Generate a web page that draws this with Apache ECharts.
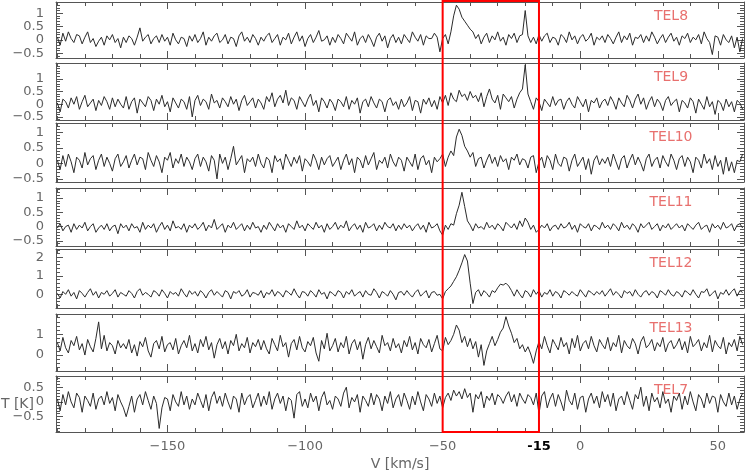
<!DOCTYPE html>
<html>
<head>
<meta charset="utf-8">
<script src="https://cdn.jsdelivr.net/npm/echarts@6/dist/echarts.min.js"></script>
<style>html,body{margin:0;background:#fff}#main{width:748px;height:475px}</style>
</head>
<body>
<div id="main"></div>
<script>
// spectra, one value per 1 km/s channel, from -190 to 59 km/s
const v0 = -190, dv = 1;
const names = ['TEL8', 'TEL9', 'TEL10', 'TEL11', 'TEL12', 'TEL13', 'TEL7'];

const tel8 = [
  0.1,-0.2,0.25,-0.05,0.3, 0.05,-0.1,0.2,0.15,-0.15, 0.1,0.3,-0.1,0.05,-0.25, -0.05,0.1,-0.2,0.15,0.0, 0.2,-0.1,0.05,-0.3,0.1,
  -0.1,0.15,0.05,-0.2,0.1, 0.45,-0.05,0.1,0.2,-0.15, 0.05,0.15,-0.1,0.2,-0.05, 0.1,-0.2,0.25,0.0,-0.15, 0.1,0.05,-0.25,0.15,-0.05,
  0.2,-0.1,0.05,0.3,-0.2, 0.1,-0.05,0.15,0.25,-0.1, 0.0,0.2,-0.15,0.1,0.05, -0.25,0.15,0.3,-0.05,0.1, -0.1,0.2,0.05,-0.2,0.1,
  -0.05,0.15,0.25,-0.1,0.05, 0.2,-0.2,0.1,0.0,0.25, -0.15,0.1,0.3,-0.05,0.15, -0.25,0.05,0.2,-0.1,0.1, 0.35,-0.05,0.0,0.15,-0.2,
  0.1,-0.1,0.2,0.05,-0.15, 0.25,0.1,-0.05,0.3,-0.2, 0.05,0.15,-0.1,0.2,0.0, -0.25,0.1,0.25,-0.05,0.15, -0.3,0.05,0.2,-0.1,0.1,
  -0.15,0.2,0.05,-0.1,0.3, 0.1,-0.05,0.2,-0.2,0.15, 0.05,0.05,0.25,0.1,-0.45, 0.05,0.2,-0.15,0.3,0.9, 1.3,1.15,0.85,0.7,0.55,
  0.4,0.3,0.05,0.2,-0.15, 0.1,0.25,-0.1,0.15,0.0, 0.3,-0.05,0.1,-0.2,0.2, 0.05,0.25,-0.1,0.15,0.2, 1.1,0.15,-0.1,0.1,-0.15,
  0.2,-0.05,0.15,0.25,-0.1, 0.1,0.05,-0.2,0.2,0.1, -0.1,0.3,0.0,0.15,-0.15, 0.1,0.2,-0.05,0.05,0.25, -0.2,0.1,0.0,0.15,-0.1,
  0.2,0.05,-0.15,0.1,0.3, -0.1,0.15,0.0,0.25,-0.2, 0.1,0.05,0.2,-0.1,0.15, -0.05,0.3,0.1,-0.15,0.05, 0.2,-0.1,0.1,0.25,-0.05,
  0.1,-0.2,0.15,0.05,0.25, -0.1,0.1,0.0,0.2,-0.15, 0.3,0.05,-0.1,-0.55,0.15, 0.1,-0.2,0.2,0.0,-0.1, 0.15,-0.3,0.1,-0.45,0.05
];
const tel9 = [
  0.05,-0.3,0.2,0.1,-0.15, 0.25,0.0,0.3,-0.2,0.1, 0.35,-0.1,0.05,0.2,-0.25, 0.15,-0.05,0.3,0.1,-0.2, 0.25,-0.1,0.2,0.0,-0.15,
  0.3,-0.2,0.1,0.25,-0.35, 0.2,0.05,-0.1,0.3,0.15, -0.25,0.2,0.0,0.35,-0.1, 0.1,-0.3,0.25,0.05,-0.15, 0.2,0.1,-0.2,0.3,-0.5,
  0.15,0.35,-0.05,0.2,0.1, -0.2,0.4,0.05,0.15,-0.15, 0.25,0.1,-0.1,0.3,0.0, 0.2,-0.25,0.15,0.35,-0.05, 0.1,0.25,-0.15,0.2,0.05,
  -0.2,0.3,0.1,0.45,-0.1, 0.2,0.35,0.05,0.55,-0.05, 0.25,0.15,-0.2,0.3,0.1, -0.1,0.2,0.4,-0.05,0.15, -0.3,0.25,0.1,-0.15,0.2,
  0.05,-0.25,0.2,0.1,-0.1, 0.3,-0.2,0.15,0.0,0.25, -0.35,0.1,0.2,-0.1,0.3, 0.05,-0.15,0.2,0.1,-0.3, 0.15,0.25,-0.05,0.1,-0.2,
  0.2,-0.1,0.05,0.3,-0.25, 0.15,0.1,-0.35,0.2,0.0, 0.25,-0.1,0.15,-0.2,0.3, 0.05,0.35,-0.05,0.45,0.2, 0.1,0.55,0.3,0.4,0.15,
  0.5,0.25,0.35,0.1,0.45, -0.1,0.3,0.6,0.2,0.05, 0.35,-0.2,0.4,0.25,0.1, 0.3,-0.15,0.2,0.45,0.6, 1.55,0.4,0.1,-0.2,0.25,
  0.1,-0.25,0.2,0.05,-0.1, 0.3,-0.05,0.15,0.2,-0.2, 0.1,0.25,0.0,-0.15,0.3, 0.1,-0.1,0.2,-0.3,0.15, 0.05,0.25,-0.15,0.1,0.2,
  -0.05,0.3,0.1,-0.2,0.25, 0.05,-0.1,0.35,0.15,-0.15, 0.2,0.4,0.0,0.25,-0.2, 0.1,0.3,-0.1,0.2,0.05, -0.25,0.15,0.3,-0.05,0.1,
  0.2,-0.3,0.15,0.05,-0.15, 0.25,0.1,-0.35,0.2,0.0, -0.2,0.3,-0.1,0.1,-0.4, 0.15,0.05,-0.25,0.2,-0.1, 0.1,-0.3,0.15,0.05,-0.2
];
const tel10 = [
  0.1,-0.2,0.25,-0.1,0.3, 0.05,-0.3,0.2,0.1,-0.15, 0.35,-0.05,0.15,0.25,-0.2, 0.1,0.3,-0.1,0.2,0.0, -0.25,0.15,0.3,-0.1,0.05,
  0.25,-0.15,0.1,0.3,-0.05, 0.2,0.15,-0.2,0.35,0.1, -0.1,0.25,0.05,-0.3,0.2, 0.1,0.35,-0.15,0.15,0.0, 0.3,-0.1,0.2,0.05,-0.2,
  0.15,0.3,-0.1,0.2,0.05, -0.25,0.25,0.1,-0.5,0.3, 0.0,0.2,-0.2,0.15,0.55, -0.05,0.1,0.25,-0.3,0.15, 0.05,0.2,-0.1,0.3,0.0,
  -0.15,0.2,0.1,-0.3,0.25, 0.05,0.15,-0.2,0.3,0.1, -0.1,0.2,0.0,0.25,-0.25, 0.15,0.05,-0.1,0.3,0.1, -0.2,0.2,-0.05,0.15,0.25,
  -0.1,0.05,0.2,-0.2,0.1, 0.3,-0.05,0.15,-0.3,0.2, 0.1,-0.15,0.25,-0.05,0.15, 0.35,-0.2,0.1,0.0,0.2, -0.15,0.3,0.05,-0.1,0.2,
  0.1,-0.25,0.2,0.05,-0.1, 0.3,-0.2,0.15,0.25,-0.05, 0.1,-0.3,0.2,0.05,0.15, 0.3,-0.1,0.2,0.4,0.25, 0.85,1.1,0.9,0.55,0.4,
  0.2,0.35,-0.1,0.15,0.2, -0.15,0.1,0.3,0.0,0.2, -0.1,0.25,0.05,0.15,-0.2, 0.2,0.1,0.3,-0.05,0.15, 0.1,-0.15,0.2,0.25,-0.3,
  0.05,0.2,-0.15,0.25,0.1, -0.2,0.3,0.0,-0.1,0.2, 0.15,-0.25,0.1,0.3,-0.1, 0.05,0.2,-0.2,0.15,-0.35, 0.1,0.25,-0.05,0.15,0.0,
  0.2,-0.1,0.3,0.05,-0.2, 0.15,0.25,-0.15,0.1,0.3, -0.05,0.2,0.0,-0.25,0.15, 0.3,-0.1,0.1,0.2,-0.15, 0.25,0.05,-0.1,0.3,0.1,
  -0.2,0.15,0.25,-0.1,0.2, 0.05,-0.3,0.2,0.1,-0.15, 0.3,0.0,0.15,-0.2,0.25, -0.1,0.1,-0.35,0.2,-0.25, 0.05,-0.3,0.1,0.05,0.3
];
const tel11 = [
  -0.05,0.1,-0.15,0.0,0.05, -0.2,0.1,-0.1,0.05,-0.05, 0.15,-0.15,0.0,0.1,-0.2, -0.05,0.05,-0.1,0.1,-0.15, 0.0,0.05,-0.25,0.1,-0.05,
  0.05,-0.15,0.1,-0.05,0.0, -0.2,0.15,-0.1,0.05,-0.05, 0.1,-0.2,0.0,0.15,-0.1, 0.05,-0.15,0.2,-0.05,0.0, -0.1,0.1,-0.2,0.05,-0.05,
  0.1,-0.1,0.0,0.15,-0.15, 0.05,-0.05,0.25,-0.1,0.0, 0.1,-0.2,0.05,-0.05,0.15, -0.1,0.0,0.1,-0.15,0.05, -0.1,0.15,-0.05,0.0,-0.2,
  0.05,-0.1,0.15,0.0,-0.15, 0.1,-0.05,0.05,-0.2,0.1, 0.0,-0.1,0.2,-0.05,0.05, -0.15,0.1,0.0,-0.1,0.15, -0.05,0.05,-0.2,0.1,-0.1,
  0.0,0.15,-0.1,0.05,-0.05, 0.2,-0.15,0.0,0.1,-0.1, 0.05,-0.2,0.15,-0.05,0.0, 0.1,-0.15,0.05,-0.1,0.15, 0.0,-0.05,0.1,-0.15,0.05,
  -0.1,0.1,-0.05,0.05,-0.15, 0.0,0.1,-0.1,0.05,-0.2, 0.15,-0.05,0.0,0.1,-0.15, -0.3,0.05,-0.1,0.1,0.05, 0.45,0.75,1.2,0.7,0.2,
  0.05,-0.15,0.1,-0.05,0.0, -0.1,0.15,-0.05,0.05,-0.1, 0.1,0.0,-0.15,0.15,0.05, -0.05,0.1,-0.1,0.2,0.0, 0.3,0.15,-0.1,0.05,-0.2,
  -0.1,0.05,-0.05,0.1,-0.15, 0.0,0.05,-0.1,0.1,-0.05, 0.0,0.15,-0.1,0.05,-0.2, 0.1,0.0,-0.05,0.1,-0.15, 0.05,0.0,-0.1,0.15,-0.05,
  0.05,-0.1,0.1,0.0,-0.15, 0.15,-0.05,0.05,-0.1,0.1, 0.0,-0.2,0.1,-0.05,0.05, 0.15,-0.1,0.0,0.1,-0.15, 0.05,-0.05,0.1,-0.1,0.0,
  0.1,-0.05,0.05,-0.15,0.1, 0.0,-0.1,0.05,0.15,-0.1, 0.0,0.05,-0.2,0.1,-0.05, 0.05,-0.1,0.15,-0.05,0.0, 0.1,-0.15,0.05,0.1,-0.05
];
const tel12 = [
  0.05,-0.2,0.15,0.0,0.25, -0.1,0.1,-0.25,0.2,0.05, -0.15,0.1,0.3,-0.05,0.15, -0.2,0.1,0.0,0.2,-0.1, 0.05,0.25,-0.15,0.1,0.0,
  -0.1,0.2,0.05,-0.2,0.15, 0.3,-0.05,0.1,0.0,-0.15, 0.2,0.1,-0.1,0.25,0.05, -0.2,0.15,0.0,0.1,-0.1, 0.3,0.05,-0.15,0.2,0.0,
  0.15,-0.1,0.2,0.05,-0.2, 0.1,0.25,-0.05,0.15,0.0, -0.15,0.2,0.1,-0.25,0.15, 0.05,0.2,-0.1,0.0,0.25, -0.15,0.1,0.05,-0.05,0.2,
  -0.2,0.1,0.0,0.25,-0.1, 0.15,0.05,-0.15,0.2,0.1, -0.05,0.3,0.0,-0.2,0.15, 0.1,-0.1,0.2,0.05,-0.15, 0.25,0.0,0.1,-0.25,0.15,
  0.05,-0.1,0.2,0.1,-0.2, 0.15,0.0,0.25,-0.1,0.05, 0.15,-0.15,0.2,0.0,-0.05, 0.3,0.1,-0.2,0.15,0.05, -0.1,0.2,0.0,-0.3,0.1,
  0.15,-0.05,0.2,0.0,-0.15, 0.1,0.25,-0.1,0.05,0.2, -0.2,0.1,0.15,-0.05,0.0, -0.25,0.15,0.3,0.45,0.7, 0.95,1.3,1.7,2.15,1.8,
  0.6,-0.5,0.1,0.25,-0.1, 0.2,0.05,-0.15,0.2,0.1, 0.35,0.55,0.5,0.6,0.45, 0.2,-0.1,0.25,0.0,-0.2, 0.2,0.1,-0.15,0.25,0.0,
  0.2,-0.15,0.1,0.0,0.25, -0.1,0.15,0.05,-0.2,0.2, 0.1,-0.05,0.15,0.0,-0.1, 0.25,0.05,-0.15,0.2,0.1, -0.05,0.15,0.0,0.2,-0.1,
  0.1,0.3,-0.05,0.15,0.0, -0.2,0.2,0.05,0.15,-0.1, 0.25,0.0,-0.15,0.1,0.2, -0.05,0.15,0.05,-0.2,0.2, 0.1,-0.05,0.25,0.0,-0.1,
  0.15,0.05,-0.15,0.2,0.1, -0.05,0.25,0.0,-0.2,0.15, 0.1,0.3,-0.1,0.05,0.2, -0.25,0.1,0.0,0.25,-0.05, 0.15,0.3,-0.1,0.2,0.1
];
const tel13 = [
  0.6,0.2,0.85,0.35,0.1, 0.7,0.45,0.9,0.25,0.55, 0.0,0.75,0.4,0.15,0.8, 1.6,0.3,0.95,0.2,0.6, 0.45,0.05,0.7,0.35,0.55,
  0.3,0.75,0.1,0.5,-0.05, 0.65,0.4,0.85,0.2,-0.1, 0.55,0.7,0.3,0.9,0.15, 0.5,0.6,0.25,0.8,0.05, 0.45,0.7,0.35,0.95,0.2,
  0.55,0.1,0.75,0.4,0.9, 0.25,0.6,-0.15,0.5,0.8, 0.3,0.65,0.05,0.7,0.45, 1.0,0.2,0.55,0.35,0.85, 0.1,0.6,0.4,0.75,0.25,
  0.7,0.3,0.05,0.8,0.5, 0.2,0.95,0.4,0.6,-0.1, 0.55,0.75,0.25,0.9,0.35, 0.15,0.65,0.45,0.85,0.1, -0.3,0.7,0.3,1.05,0.2,
  0.45,0.8,0.15,0.6,0.35, 0.9,0.05,0.55,0.75,0.25, 0.65,-0.2,0.5,0.85,0.3, 0.7,0.4,0.1,0.95,0.45, 0.6,0.2,0.8,0.35,0.55,
  0.1,0.7,0.4,0.9,0.25, 0.6,0.05,0.8,0.5,0.35, 0.75,0.15,0.55,0.95,0.3, 0.2,0.85,0.5,0.7,1.0, 1.45,1.2,0.6,0.9,0.4,
  0.8,0.3,0.65,-0.1,0.5, -0.5,0.2,0.55,0.9,0.45, 0.75,1.1,1.3,1.85,1.4, 1.05,0.6,0.8,0.3,0.5, 0.15,0.4,0.05,-0.4,0.2,
  0.65,0.3,0.9,0.45,0.1, 0.75,0.5,0.25,0.85,0.4, 0.6,0.05,0.8,0.35,0.95, 0.2,0.55,0.7,0.3,0.9, 0.45,0.15,0.75,0.5,0.3,
  0.85,0.2,0.6,0.4,0.95, 0.1,0.7,0.45,0.3,0.8, 0.55,0.05,0.65,0.9,0.35, 0.5,0.75,0.2,0.6,0.4, 0.85,0.15,0.55,0.7,0.3,
  0.5,0.8,0.25,0.65,0.1, 0.9,0.4,0.55,0.75,0.2, 0.6,0.35,0.95,0.15,0.7, 0.45,0.3,0.85,0.05,0.6, 0.4,0.75,0.2,0.9,0.5
];
const tel7 = [
  0.1,-0.3,0.25,-0.1,0.35, 0.0,-0.2,0.3,0.15,-0.35, 0.2,0.05,-0.15,0.3,-0.25, 0.1,0.2,-0.1,0.35,-0.05, 0.15,-0.3,0.25,0.0,-0.2,
  -0.5,-0.15,0.2,-0.35,0.1, 0.25,-0.1,0.35,0.05,-0.25, 0.2,-0.05,-0.9,-0.2,0.15, 0.1,-0.3,0.25,0.0,-0.15, 0.35,-0.1,0.2,-0.25,0.1,
  -0.1,0.3,0.05,-0.2,0.25, -0.3,0.15,0.35,-0.05,0.2, -0.15,0.3,0.0,-0.25,0.2, 0.1,-0.35,0.3,-0.1,0.15, 0.25,-0.2,0.05,0.3,-0.15,
  0.2,-0.1,0.35,-0.25,0.1, 0.3,-0.05,0.2,-0.3,0.15, 0.05,-0.55,0.25,0.35,-0.15, 0.1,-0.2,0.3,0.0,0.2, -0.3,0.15,0.35,-0.1,0.05,
  -0.25,0.2,0.1,-0.15,0.3, 0.5,-0.2,0.15,0.0,0.25, -0.35,0.2,0.05,-0.15,0.3, -0.1,0.25,0.1,-0.3,0.2, -0.05,0.35,-0.2,0.1,0.25,
  -0.15,0.3,0.05,-0.25,0.2, -0.1,0.35,0.0,-0.3,0.25, 0.1,-0.15,0.3,-0.05,0.2, -0.2,0.15,0.3,0.05,0.4, 0.2,0.35,0.1,0.45,0.15,
  0.3,-0.35,0.25,0.1,0.35, -0.2,0.2,0.05,0.3,-0.1, 0.25,0.15,-0.05,0.2,0.35, 0.0,0.25,-0.15,0.3,0.1, -0.05,0.25,0.15,-0.1,0.3,
  -0.4,0.2,0.35,-0.2,0.1, 0.3,-0.15,0.25,0.0,-0.3, 0.4,0.05,-0.1,0.3,-0.25, 0.15,0.2,-0.35,0.1,0.3, -0.05,0.2,-0.2,0.35,0.0,
  0.25,-0.15,0.3,-0.3,0.1, 0.2,-0.1,0.35,0.05,-0.25, 0.25,0.1,0.5,-0.15,0.2, -0.3,0.3,0.0,0.15,-0.2, 0.35,-0.05,0.1,-0.35,0.2,
  0.05,0.3,-0.25,0.2,-0.1, 0.35,0.0,-0.3,0.25,0.1, -0.2,0.3,-0.05,0.2,0.15, -0.35,0.25,0.0,-0.15,0.3, -0.1,0.2,-0.25,0.1,0.3
];
const spectra = [tel8, tel9, tel10, tel11, tel12, tel13, tel7];

// axes
const vMin = -190.5, vMax = 59.5;
const xMajor = [-150, -100, -50, 0, 50];
const xMinor = [-190, -180, -170, -160, -140, -130, -120, -110, -90, -80, -70, -60, -40, -30, -20, -10, 10, 20, 30, 40];
const xLabels = [-150, -100, -50, -15, 0, 50];
const yRanges = [[-0.68, 1.42], [-0.62, 1.62], [-0.6, 1.3], [-0.68, 1.35], [-0.74, 2.45], [-0.77, 1.98], [-1.02, 0.88]];
const yLabels = [[-0.5, 0, 0.5, 1], [-0.5, 0, 0.5, 1], [-0.5, 0, 0.5, 1], [-0.5, 0, 0.5, 1], [0, 1, 2], [0, 1], [-0.5, 0, 0.5]];
const yMinorStep = [0.1, 0.1, 0.1, 0.1, 0.2, 0.2, 0.1];
const box = [-50, -15];

const tops = [2, 63, 123, 188, 249, 314, 376];
const heights = [56, 57, 59, 58, 59, 57, 56];
const ink = '#555';
const fontFamily = 'DejaVu Sans';

function minorList(r, step) {
  const out = [];
  for (let t = Math.ceil(r[0] / step - 1e-9); t * step <= r[1] + 1e-9; t++) out.push(+(t * step).toFixed(2));
  return out;
}
function fmt(v) {
  if (v === -15) return '{b|-15}';
  return v < 0 ? '\u2212' + String(-v) : String(v);
}

const grid = [], xAxis = [], yAxis = [], series = [];
spectra.forEach((d, i) => {
  const last = i === spectra.length - 1;
  grid.push({ left: 56, right: 4, top: tops[i], height: heights[i], containLabel: false, outerBoundsMode: 'none' });

  [['bottom', xMajor, 7], ['bottom', xMinor, 4], ['top', xMajor, 7], ['top', xMinor, 4]].forEach(([pos, vals, len], k) => {
    const ax = {
      type: 'value', gridIndex: i, position: pos, min: vMin, max: vMax,
      splitLine: { show: false },
      axisLine: { show: k === 0 || k === 2, onZero: false, lineStyle: { color: ink, width: 1 } },
      axisTick: { show: true, inside: true, length: len, customValues: vals, lineStyle: { color: ink } },
      axisLabel: { show: false }
    };
    if (last && k === 0) {
      ax.axisLabel = {
        show: true, customValues: xLabels, margin: 8, formatter: fmt, hideOverlap: false,
        color: '#666', fontSize: 13, fontFamily: fontFamily,
        rich: { b: { fontWeight: 'bold', color: '#000', fontSize: 13, fontFamily: fontFamily } }
      };
      ax.name = 'V [km/s]';
      ax.nameLocation = 'middle';
      ax.nameGap = 25;
      ax.nameMoveOverlap = false;
      ax.nameTextStyle = { color: '#666', fontSize: 14, fontFamily: fontFamily };
    }
    xAxis.push(ax);
  });

  // labels alternate between the two left axes so neighbours never collide
  const minors = minorList(yRanges[i], yMinorStep[i]);
  const labA = yLabels[i].filter((_, j) => j % 2 === 0);
  const labB = yLabels[i].filter((_, j) => j % 2 === 1);
  [['left', yLabels[i], 7, labA], ['left', minors, 4, labB], ['right', yLabels[i], 7, null], ['right', minors, 4, null]].forEach(([pos, vals, len, labs], k) => {
    const ax = {
      type: 'value', gridIndex: i, position: pos, min: yRanges[i][0], max: yRanges[i][1],
      splitLine: { show: false },
      axisLine: { show: k === 0 || k === 2, onZero: false, lineStyle: { color: ink, width: 1 } },
      axisTick: { show: true, inside: true, length: len, customValues: vals, lineStyle: { color: ink } },
      axisLabel: { show: false }
    };
    if (labs) {
      ax.axisLabel = {
        show: true, customValues: labs, margin: 12, formatter: fmt, hideOverlap: false,
        color: '#666', fontSize: 13, fontFamily: fontFamily
      };
    }
    if (k === 0 && last) {
      ax.name = 'T [K]';
      ax.nameLocation = 'middle';
      ax.nameRotate = 0;
      ax.nameGap = 22;
      ax.nameMoveOverlap = false;
      ax.nameTextStyle = { color: '#666', fontSize: 14, fontFamily: fontFamily, align: 'right', verticalAlign: 'middle' };
    }
    yAxis.push(ax);
  });

  series.push({
    name: names[i], type: 'line', xAxisIndex: i * 4, yAxisIndex: i * 4,
    symbol: 'none', silent: true, animation: false,
    lineStyle: { color: '#2b2b2b', width: 1 },
    data: d.map((t, j) => [v0 + j * dv, t])
  });
});

const labels = names.map((n, i) => ({
  type: 'text', x: 671, y: tops[i] + 14, z: 50,
  style: { text: n, align: 'center', verticalAlign: 'middle', fill: '#e8706e', fontSize: 14, fontFamily: fontFamily }
}));

const chart = echarts.init(document.getElementById('main'));
chart.setOption({
  animation: false,
  backgroundColor: '#fff',
  grid: grid, xAxis: xAxis, yAxis: yAxis, series: series,
  graphic: labels
});

// red window from -50 to -15 km/s, through all panels
const xl = chart.convertToPixel({ xAxisIndex: 0 }, box[0]);
const xr = chart.convertToPixel({ xAxisIndex: 0 }, box[1]);
const yb = chart.convertToPixel({ yAxisIndex: (spectra.length - 1) * 4 }, yRanges[spectra.length - 1][0]);
chart.setOption({
  graphic: labels.concat([{
    type: 'rect', z: 100, silent: true,
    shape: { x: xl, y: 1, width: xr - xl, height: yb - 1 },
    style: { fill: 'none', stroke: '#ff0000', lineWidth: 2 }
  }])
});
</script>
</body>
</html>
